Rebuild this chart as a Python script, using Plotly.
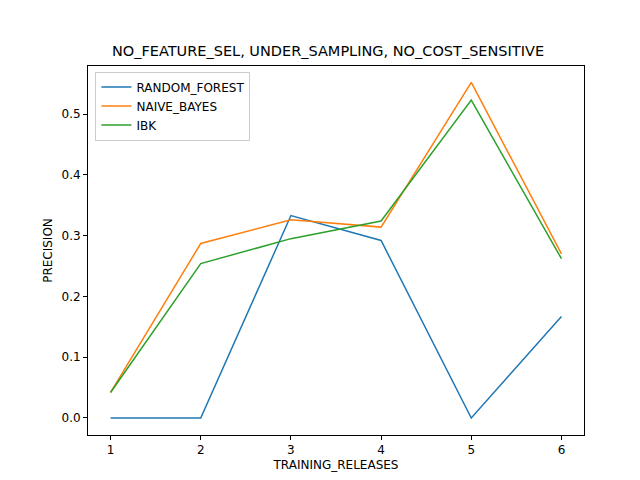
import plotly.graph_objects as go

releases = [1, 2, 3, 4, 5, 6]
random_forest = [0.0, 0.0, 0.333, 0.292, 0.0, 0.167]
naive_bayes = [0.042, 0.287, 0.326, 0.314, 0.552, 0.270]
ibk = [0.042, 0.254, 0.295, 0.324, 0.523, 0.262]

series = [("RANDOM_FOREST", random_forest, "#1f77b4"),
          ("NAIVE_BAYES", naive_bayes, "#ff7f0e"),
          ("IBK", ibk, "#2ca02c")]

fig = go.Figure()
for name, vals, color in series:
    fig.add_trace(go.Scatter(x=releases, y=vals, mode="lines", name=name,
                             line=dict(color=color, width=1.5)))

axis = dict(showgrid=False, zeroline=False, showline=True, mirror=True,
            linecolor="black", linewidth=1, ticks="outside", ticklen=4,
            tickcolor="black", tickfont=dict(size=12, color="black"),
            automargin=False)
fig.update_layout(
    width=640, height=480,
    margin=dict(l=80, r=64, t=58, b=53),
    paper_bgcolor="white", plot_bgcolor="white",
    font=dict(family="DejaVu Sans", color="black"),
    title=dict(text="NO_FEATURE_SEL, UNDER_SAMPLING, NO_COST_SENSITIVE",
               x=0.5, xanchor="center", y=0.91, yanchor="middle",
               font=dict(size=14.5), automargin=False),
    xaxis=dict(axis, range=[0.75, 6.25], tickvals=releases,
               title=dict(text="TRAINING_RELEASES", font=dict(size=12), standoff=4)),
    yaxis=dict(axis, range=[-0.028, 0.579], tickvals=[0, 0.1, 0.2, 0.3, 0.4, 0.5],
               tickformat=".1f",
               title=dict(text="PRECISION", font=dict(size=12), standoff=6)),
    legend=dict(x=0.015, y=0.985, xanchor="left", yanchor="top",
                bordercolor="#cccccc", borderwidth=1, bgcolor="white",
                font=dict(size=12)),
)
fig.write_html("out.html")
